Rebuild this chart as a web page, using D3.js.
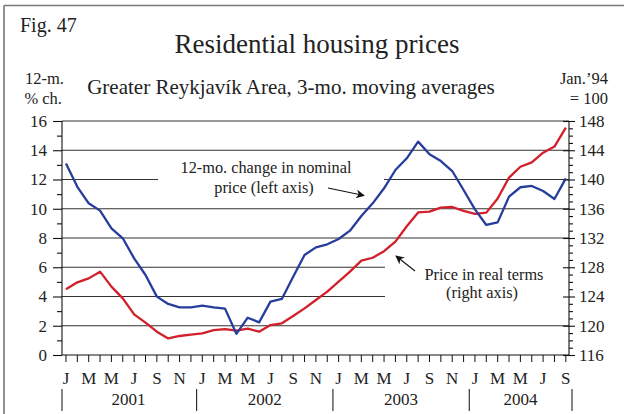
<!DOCTYPE html>
<html lang="en">
<head>
<meta charset="UTF-8">
<script src="https://cdn.jsdelivr.net/npm/d3@7/dist/d3.min.js"></script>
<title>Residential housing prices</title>
<style>
  body { margin: 0; background: #fff; }
  svg { display: block; font-family: "Liberation Serif", "DejaVu Serif", serif; }
</style>
</head>
<body>
<script>
// months Jan 2001 .. Sep 2004
var monthLabels = ["J","F","M","A","M","J","J","A","S","O","N","D"];
var years = ["2001", "2002", "2003", "2004"];
var nMonths = 45;

// 12-month % change in nominal price (left axis)
var nominal = [13.1, 11.5, 10.37, 9.87, 8.66, 7.98, 6.61, 5.47, 3.99, 3.49, 3.26, 3.26,
               3.37, 3.26, 3.17, 1.45, 2.55, 2.23, 3.65, 3.83, 5.35, 6.84, 7.36, 7.57,
               7.93, 8.5, 9.5, 10.37, 11.4, 12.65, 13.45, 14.59, 13.72, 13.26, 12.58, 11.28,
               9.96, 8.89, 9.07, 10.83, 11.47, 11.56, 11.21, 10.67, 12.08];

// real price index, Jan.'94 = 100 (right axis)
var real = [125.0, 125.94, 126.48, 127.4, 125.35, 123.75, 121.56, 120.42, 119.19, 118.27, 118.6, 118.8,
            118.96, 119.4, 119.55, 119.33, 119.6, 119.19, 120.1, 120.33, 121.33, 122.38, 123.52, 124.66,
            126.03, 127.4, 128.9, 129.3, 130.2, 131.5, 133.6, 135.5, 135.6, 136.15, 136.24, 135.7,
            135.3, 135.47, 137.4, 140.25, 141.75, 142.35, 143.67, 144.5, 147.1];

var leftTicks = [0, 2, 4, 6, 8, 10, 12, 14, 16];
var rightTicks = [116, 120, 124, 128, 132, 136, 140, 144, 148];

var W = 624, H = 414;
var svg = d3.select("body").append("svg").attr("width", W).attr("height", H);

// frame (top and left edges only visible)
svg.append("line").attr("x1", 4).attr("x2", W).attr("y1", 5.5).attr("y2", 5.5)
   .attr("stroke", "#777").attr("stroke-width", 1.6);
svg.append("line").attr("x1", 4).attr("x2", 4).attr("y1", 5.5).attr("y2", H)
   .attr("stroke", "#777").attr("stroke-width", 1.6);

var pLeft = 62, pRight = 569, pTop = 121, pBottom = 355;

var x = d3.scaleBand().domain(d3.range(nMonths)).range([60.3, 571.5]);
var xc = function(i) { return x(i) + x.bandwidth() / 2; };
var yL = d3.scaleLinear().domain([0, 16]).range([pBottom, pTop]);
var yR = d3.scaleLinear().domain([116, 148]).range([pBottom, pTop]);

// texts
svg.append("text").attr("x", 20).attr("y", 32).attr("font-size", 20).attr("fill", "#222").text("Fig. 47");
svg.append("text").attr("x", 317).attr("y", 53).attr("text-anchor", "middle")
   .attr("font-size", 27).attr("fill", "#222").text("Residential housing prices");
svg.append("text").attr("x", 291).attr("y", 94).attr("text-anchor", "middle")
   .attr("font-size", 21).attr("fill", "#222").text("Greater Reykjavík Area, 3-mo. moving averages");
svg.append("text").attr("x", 64).attr("y", 84).attr("text-anchor", "end")
   .attr("font-size", 16.5).attr("fill", "#222").text("12-m.");
svg.append("text").attr("x", 62).attr("y", 104).attr("text-anchor", "end")
   .attr("font-size", 16.5).attr("fill", "#222").text("% ch.");
svg.append("text").attr("x", 608).attr("y", 84).attr("text-anchor", "end")
   .attr("font-size", 16.5).attr("fill", "#222").text("Jan.’94");
svg.append("text").attr("x", 608).attr("y", 104).attr("text-anchor", "end")
   .attr("font-size", 16.5).attr("fill", "#222").text("= 100");

// gridlines (some broken around the notes)
var grid = svg.append("g").attr("stroke", "#333").attr("stroke-width", 1.1);
leftTicks.forEach(function(v) {
  if (v === 0) return;
  var segs = [[pLeft, pRight]];
  if (v === 12) segs = [[pLeft, 158], [384, pRight]];
  if (v === 4 || v === 6) segs = [[pLeft, 385]];
  segs.forEach(function(s) {
    grid.append("line").attr("x1", s[0]).attr("x2", s[1])
        .attr("y1", yL(v)).attr("y2", yL(v));
  });
});

// left axis
var axL = d3.axisLeft(yL).tickValues(leftTicks).tickSize(9).tickPadding(6).tickFormat(d3.format("d"));
var gL = svg.append("g").attr("transform", "translate(" + pLeft + ",0)").call(axL);
var gLm = svg.append("g").attr("transform", "translate(" + pLeft + ",0)")
   .call(d3.axisLeft(yL).tickValues(d3.range(1, 16, 2)).tickSize(5).tickFormat(""));
gLm.select(".domain").remove();

// right axis
var axR = d3.axisRight(yR).tickValues(rightTicks).tickSize(6).tickPadding(4).tickFormat(d3.format("d"));
var gR = svg.append("g").attr("transform", "translate(" + pRight + ",0)").call(axR);
gR.selectAll(".tick line").attr("x1", -6);
var gRm = svg.append("g").attr("transform", "translate(" + pRight + ",0)")
   .call(d3.axisRight(yR).tickValues(d3.range(116, 149).filter(function(v) { return v % 4; }))
   .tickSize(4).tickFormat(""));
gRm.select(".domain").remove();

[gL, gR, gLm, gRm].forEach(function(g) {
  g.attr("font-family", null).attr("font-size", 17);
  g.selectAll("path, line").attr("stroke", "#111").attr("stroke-width", 1.1);
  g.selectAll("text").attr("fill", "#222");
});
gL.selectAll(".domain").attr("d", "M0," + pBottom + "V" + pTop);
gR.selectAll(".domain").attr("d", "M0," + pBottom + "V" + pTop);

// x axis
svg.append("line").attr("x1", pLeft).attr("x2", pRight).attr("y1", pBottom).attr("y2", pBottom)
   .attr("stroke", "#111").attr("stroke-width", 1.2);
svg.append("g").selectAll("line").data(d3.range(nMonths)).join("line")
   .attr("x1", xc).attr("x2", xc).attr("y1", pBottom).attr("y2", pBottom + 7)
   .attr("stroke", "#111");
svg.append("g").selectAll("text").data(d3.range(0, nMonths, 2)).join("text")
   .attr("x", xc).attr("y", 384).attr("text-anchor", "middle").attr("font-size", 17).attr("fill", "#222")
   .text(function(i) { return monthLabels[i % 12]; });
var yearEdges = [0, 12, 24, 36, 45];
var edgeX = function(i) { return i === 0 ? pLeft : (i < nMonths ? x(i) : x(44) + x.bandwidth() + 0.5); };
svg.append("g").selectAll("line").data(yearEdges).join("line")
   .attr("x1", edgeX).attr("x2", edgeX)
   .attr("y1", 389).attr("y2", 411).attr("stroke", "#222").attr("stroke-width", 1.1);
svg.append("g").selectAll("text").data(years).join("text")
   .attr("x", function(d, k) { return (x(k * 12) + x(Math.min(k * 12 + 11, 44)) + x.bandwidth()) / 2; })
   .attr("y", 405).attr("text-anchor", "middle").attr("font-size", 17).attr("fill", "#222")
   .text(function(d) { return d; });

// lines
svg.append("path").datum(real)
   .attr("d", d3.line().x(function(d, i) { return xc(i); }).y(function(d) { return yR(d); }))
   .attr("fill", "none").attr("stroke", "#d21f2a").attr("stroke-width", 2.3).attr("stroke-linejoin", "round");
svg.append("path").datum(nominal)
   .attr("d", d3.line().x(function(d, i) { return xc(i); }).y(function(d) { return yL(d); }))
   .attr("fill", "none").attr("stroke", "#263d9c").attr("stroke-width", 2.3).attr("stroke-linejoin", "round");

// notes with arrows
var defs = svg.append("defs");
defs.append("marker").attr("id", "arr").attr("viewBox", "0 0 10 10").attr("refX", 9).attr("refY", 5)
    .attr("markerWidth", 8).attr("markerHeight", 8).attr("orient", "auto")
    .append("path").attr("d", "M0,0 L10,5 L0,10 L3,5 Z").attr("fill", "#111");

svg.append("text").attr("x", 266).attr("y", 173).attr("text-anchor", "middle")
   .attr("font-size", 16.3).attr("fill", "#222").text("12-mo. change in nominal");
svg.append("text").attr("x", 264).attr("y", 193).attr("text-anchor", "middle")
   .attr("font-size", 16.3).attr("fill", "#222").text("price (left axis)");
svg.append("line").attr("x1", 328).attr("y1", 188).attr("x2", 364).attr("y2", 195.5)
   .attr("stroke", "#111").attr("stroke-width", 1.1).attr("marker-end", "url(#arr)");

svg.append("text").attr("x", 484).attr("y", 280).attr("text-anchor", "middle")
   .attr("font-size", 16.3).attr("fill", "#222").text("Price in real terms");
svg.append("text").attr("x", 482).attr("y", 298).attr("text-anchor", "middle")
   .attr("font-size", 16.3).attr("fill", "#222").text("(right axis)");
svg.append("line").attr("x1", 415).attr("y1", 271).attr("x2", 396).attr("y2", 256)
   .attr("stroke", "#111").attr("stroke-width", 1.1).attr("marker-end", "url(#arr)");
</script>
</body>
</html>
